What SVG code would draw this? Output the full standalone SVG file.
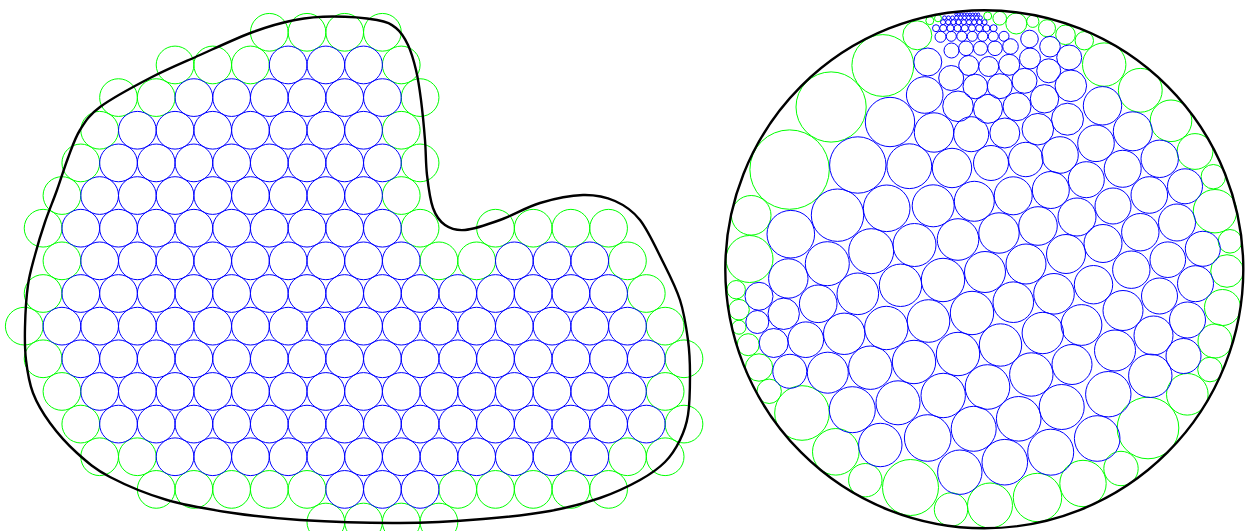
<svg xmlns="http://www.w3.org/2000/svg" width="1245" height="531" viewBox="0 0 1245 531">
<style>
.g circle{fill:none;stroke:#00ff00;stroke-width:1}
.b circle{fill:none;stroke:#0000ff;stroke-width:1}
.k{fill:none;stroke:#000;stroke-width:2.4}
</style>
<rect width="1245" height="531" fill="#fff"/>
<g id="left-packing">
<g id="left-green" class="g">
<circle cx="269.3" cy="32.3" r="18.85"/><circle cx="307" cy="32.3" r="18.85"/><circle cx="344.7" cy="32.3" r="18.85"/><circle cx="382.4" cy="32.3" r="18.85"/>
<circle cx="175.05" cy="64.95" r="18.85"/><circle cx="212.75" cy="64.95" r="18.85"/><circle cx="250.45" cy="64.95" r="18.85"/><circle cx="401.25" cy="64.95" r="18.85"/>
<circle cx="118.5" cy="97.6" r="18.85"/><circle cx="156.2" cy="97.6" r="18.85"/><circle cx="420.1" cy="97.6" r="18.85"/>
<circle cx="99.65" cy="130.25" r="18.85"/><circle cx="401.25" cy="130.25" r="18.85"/>
<circle cx="80.8" cy="162.9" r="18.85"/><circle cx="420.1" cy="162.9" r="18.85"/>
<circle cx="61.95" cy="195.55" r="18.85"/><circle cx="401.25" cy="195.55" r="18.85"/>
<circle cx="43.1" cy="228.2" r="18.85"/><circle cx="420.1" cy="228.2" r="18.85"/><circle cx="495.5" cy="228.2" r="18.85"/><circle cx="533.2" cy="228.2" r="18.85"/><circle cx="570.9" cy="228.2" r="18.85"/><circle cx="608.6" cy="228.2" r="18.85"/>
<circle cx="61.95" cy="260.85" r="18.85"/><circle cx="438.95" cy="260.85" r="18.85"/><circle cx="476.65" cy="260.85" r="18.85"/><circle cx="627.45" cy="260.85" r="18.85"/>
<circle cx="43.1" cy="293.5" r="18.85"/><circle cx="646.3" cy="293.5" r="18.85"/>
<circle cx="24.25" cy="326.15" r="18.85"/><circle cx="665.15" cy="326.15" r="18.85"/>
<circle cx="43.1" cy="358.8" r="18.85"/><circle cx="684" cy="358.8" r="18.85"/>
<circle cx="61.95" cy="391.45" r="18.85"/><circle cx="665.15" cy="391.45" r="18.85"/>
<circle cx="80.8" cy="424.1" r="18.85"/><circle cx="684" cy="424.1" r="18.85"/>
<circle cx="99.65" cy="456.75" r="18.85"/><circle cx="137.35" cy="456.75" r="18.85"/><circle cx="627.45" cy="456.75" r="18.85"/><circle cx="665.15" cy="456.75" r="18.85"/>
<circle cx="156.2" cy="489.4" r="18.85"/><circle cx="193.9" cy="489.4" r="18.85"/><circle cx="231.6" cy="489.4" r="18.85"/><circle cx="269.3" cy="489.4" r="18.85"/><circle cx="307" cy="489.4" r="18.85"/><circle cx="457.8" cy="489.4" r="18.85"/><circle cx="495.5" cy="489.4" r="18.85"/><circle cx="533.2" cy="489.4" r="18.85"/><circle cx="570.9" cy="489.4" r="18.85"/><circle cx="608.6" cy="489.4" r="18.85"/>
<circle cx="325.85" cy="522.05" r="18.85"/><circle cx="363.55" cy="522.05" r="18.85"/><circle cx="401.25" cy="522.05" r="18.85"/><circle cx="438.95" cy="522.05" r="18.85"/>
</g>
<g id="left-blue" class="b">
<circle cx="288.15" cy="64.95" r="18.85"/><circle cx="325.85" cy="64.95" r="18.85"/><circle cx="363.55" cy="64.95" r="18.85"/>
<circle cx="193.9" cy="97.6" r="18.85"/><circle cx="231.6" cy="97.6" r="18.85"/><circle cx="269.3" cy="97.6" r="18.85"/><circle cx="307" cy="97.6" r="18.85"/><circle cx="344.7" cy="97.6" r="18.85"/><circle cx="382.4" cy="97.6" r="18.85"/>
<circle cx="137.35" cy="130.25" r="18.85"/><circle cx="175.05" cy="130.25" r="18.85"/><circle cx="212.75" cy="130.25" r="18.85"/><circle cx="250.45" cy="130.25" r="18.85"/><circle cx="288.15" cy="130.25" r="18.85"/><circle cx="325.85" cy="130.25" r="18.85"/><circle cx="363.55" cy="130.25" r="18.85"/>
<circle cx="118.5" cy="162.9" r="18.85"/><circle cx="156.2" cy="162.9" r="18.85"/><circle cx="193.9" cy="162.9" r="18.85"/><circle cx="231.6" cy="162.9" r="18.85"/><circle cx="269.3" cy="162.9" r="18.85"/><circle cx="307" cy="162.9" r="18.85"/><circle cx="344.7" cy="162.9" r="18.85"/><circle cx="382.4" cy="162.9" r="18.85"/>
<circle cx="99.65" cy="195.55" r="18.85"/><circle cx="137.35" cy="195.55" r="18.85"/><circle cx="175.05" cy="195.55" r="18.85"/><circle cx="212.75" cy="195.55" r="18.85"/><circle cx="250.45" cy="195.55" r="18.85"/><circle cx="288.15" cy="195.55" r="18.85"/><circle cx="325.85" cy="195.55" r="18.85"/><circle cx="363.55" cy="195.55" r="18.85"/>
<circle cx="80.8" cy="228.2" r="18.85"/><circle cx="118.5" cy="228.2" r="18.85"/><circle cx="156.2" cy="228.2" r="18.85"/><circle cx="193.9" cy="228.2" r="18.85"/><circle cx="231.6" cy="228.2" r="18.85"/><circle cx="269.3" cy="228.2" r="18.85"/><circle cx="307" cy="228.2" r="18.85"/><circle cx="344.7" cy="228.2" r="18.85"/><circle cx="382.4" cy="228.2" r="18.85"/>
<circle cx="99.65" cy="260.85" r="18.85"/><circle cx="137.35" cy="260.85" r="18.85"/><circle cx="175.05" cy="260.85" r="18.85"/><circle cx="212.75" cy="260.85" r="18.85"/><circle cx="250.45" cy="260.85" r="18.85"/><circle cx="288.15" cy="260.85" r="18.85"/><circle cx="325.85" cy="260.85" r="18.85"/><circle cx="363.55" cy="260.85" r="18.85"/><circle cx="401.25" cy="260.85" r="18.85"/><circle cx="514.35" cy="260.85" r="18.85"/><circle cx="552.05" cy="260.85" r="18.85"/><circle cx="589.75" cy="260.85" r="18.85"/>
<circle cx="80.8" cy="293.5" r="18.85"/><circle cx="118.5" cy="293.5" r="18.85"/><circle cx="156.2" cy="293.5" r="18.85"/><circle cx="193.9" cy="293.5" r="18.85"/><circle cx="231.6" cy="293.5" r="18.85"/><circle cx="269.3" cy="293.5" r="18.85"/><circle cx="307" cy="293.5" r="18.85"/><circle cx="344.7" cy="293.5" r="18.85"/><circle cx="382.4" cy="293.5" r="18.85"/><circle cx="420.1" cy="293.5" r="18.85"/><circle cx="457.8" cy="293.5" r="18.85"/><circle cx="495.5" cy="293.5" r="18.85"/><circle cx="533.2" cy="293.5" r="18.85"/><circle cx="570.9" cy="293.5" r="18.85"/><circle cx="608.6" cy="293.5" r="18.85"/>
<circle cx="61.95" cy="326.15" r="18.85"/><circle cx="99.65" cy="326.15" r="18.85"/><circle cx="137.35" cy="326.15" r="18.85"/><circle cx="175.05" cy="326.15" r="18.85"/><circle cx="212.75" cy="326.15" r="18.85"/><circle cx="250.45" cy="326.15" r="18.85"/><circle cx="288.15" cy="326.15" r="18.85"/><circle cx="325.85" cy="326.15" r="18.85"/><circle cx="363.55" cy="326.15" r="18.85"/><circle cx="401.25" cy="326.15" r="18.85"/><circle cx="438.95" cy="326.15" r="18.85"/><circle cx="476.65" cy="326.15" r="18.85"/><circle cx="514.35" cy="326.15" r="18.85"/><circle cx="552.05" cy="326.15" r="18.85"/><circle cx="589.75" cy="326.15" r="18.85"/><circle cx="627.45" cy="326.15" r="18.85"/>
<circle cx="80.8" cy="358.8" r="18.85"/><circle cx="118.5" cy="358.8" r="18.85"/><circle cx="156.2" cy="358.8" r="18.85"/><circle cx="193.9" cy="358.8" r="18.85"/><circle cx="231.6" cy="358.8" r="18.85"/><circle cx="269.3" cy="358.8" r="18.85"/><circle cx="307" cy="358.8" r="18.85"/><circle cx="344.7" cy="358.8" r="18.85"/><circle cx="382.4" cy="358.8" r="18.85"/><circle cx="420.1" cy="358.8" r="18.85"/><circle cx="457.8" cy="358.8" r="18.85"/><circle cx="495.5" cy="358.8" r="18.85"/><circle cx="533.2" cy="358.8" r="18.85"/><circle cx="570.9" cy="358.8" r="18.85"/><circle cx="608.6" cy="358.8" r="18.85"/><circle cx="646.3" cy="358.8" r="18.85"/>
<circle cx="99.65" cy="391.45" r="18.85"/><circle cx="137.35" cy="391.45" r="18.85"/><circle cx="175.05" cy="391.45" r="18.85"/><circle cx="212.75" cy="391.45" r="18.85"/><circle cx="250.45" cy="391.45" r="18.85"/><circle cx="288.15" cy="391.45" r="18.85"/><circle cx="325.85" cy="391.45" r="18.85"/><circle cx="363.55" cy="391.45" r="18.85"/><circle cx="401.25" cy="391.45" r="18.85"/><circle cx="438.95" cy="391.45" r="18.85"/><circle cx="476.65" cy="391.45" r="18.85"/><circle cx="514.35" cy="391.45" r="18.85"/><circle cx="552.05" cy="391.45" r="18.85"/><circle cx="589.75" cy="391.45" r="18.85"/><circle cx="627.45" cy="391.45" r="18.85"/>
<circle cx="118.5" cy="424.1" r="18.85"/><circle cx="156.2" cy="424.1" r="18.85"/><circle cx="193.9" cy="424.1" r="18.85"/><circle cx="231.6" cy="424.1" r="18.85"/><circle cx="269.3" cy="424.1" r="18.85"/><circle cx="307" cy="424.1" r="18.85"/><circle cx="344.7" cy="424.1" r="18.85"/><circle cx="382.4" cy="424.1" r="18.85"/><circle cx="420.1" cy="424.1" r="18.85"/><circle cx="457.8" cy="424.1" r="18.85"/><circle cx="495.5" cy="424.1" r="18.85"/><circle cx="533.2" cy="424.1" r="18.85"/><circle cx="570.9" cy="424.1" r="18.85"/><circle cx="608.6" cy="424.1" r="18.85"/><circle cx="646.3" cy="424.1" r="18.85"/>
<circle cx="175.05" cy="456.75" r="18.85"/><circle cx="212.75" cy="456.75" r="18.85"/><circle cx="250.45" cy="456.75" r="18.85"/><circle cx="288.15" cy="456.75" r="18.85"/><circle cx="325.85" cy="456.75" r="18.85"/><circle cx="363.55" cy="456.75" r="18.85"/><circle cx="401.25" cy="456.75" r="18.85"/><circle cx="438.95" cy="456.75" r="18.85"/><circle cx="476.65" cy="456.75" r="18.85"/><circle cx="514.35" cy="456.75" r="18.85"/><circle cx="552.05" cy="456.75" r="18.85"/><circle cx="589.75" cy="456.75" r="18.85"/>
<circle cx="344.7" cy="489.4" r="18.85"/><circle cx="382.4" cy="489.4" r="18.85"/><circle cx="420.1" cy="489.4" r="18.85"/>
</g>
<path id="left-boundary" class="k" d="M333,16.5 C346.7,16.5 366.5,18.1 377,20 C387.5,21.9 390.8,23.8 396,28 C401.2,32.2 404.7,38 408,45 C411.3,52 413.8,60.8 416,70 C418.2,79.2 419.5,88.3 421,100 C422.5,111.7 424,127.5 425,140 C426,152.5 425.7,163.7 427,175 C428.3,186.3 430,199.7 433,208 C436,216.3 439.7,221.3 445,225 C450.3,228.7 455.8,230.8 465,230 C474.2,229.2 487.5,224.5 500,220 C512.5,215.5 526.2,207.2 540,203 C553.8,198.8 570.5,195.3 583,195 C595.5,194.7 605.5,196.8 615,201 C624.5,205.2 632,209.8 640,220 C648,230.2 656.3,248.7 663,262 C669.7,275.3 675.8,287 680,300 C684.2,313 686.3,327.5 688,340 C689.7,352.5 690,362.5 690,375 C690,387.5 689.7,404.2 688,415 C686.3,425.8 683.8,432.2 680,440 C676.2,447.8 671.7,455.3 665,462 C658.3,468.7 650.8,474 640,480 C629.2,486 615,492.8 600,498 C585,503.2 569.5,507.5 550,511 C530.5,514.5 508,517 483,519 C458,521 430.5,522.8 400,523 C369.5,523.2 327.8,521.7 300,520 C272.2,518.3 255.2,516.3 233,513 C210.8,509.7 187.5,506 167,500 C146.5,494 125,484.8 110,477 C95,469.2 87,462 77,453 C67,444 57.3,433 50,423 C42.7,413 37,403.5 33,393 C29,382.5 27.3,371 26,360 C24.7,349 24.7,339.5 25,327 C25.3,314.5 26.3,297 28,285 C29.7,273 32.2,265.5 35,255 C37.8,244.5 41.3,232.8 45,222 C48.7,211.2 53.2,200.7 57,190 C60.8,179.3 64.2,168 68,158 C71.8,148 74.7,138.5 80,130 C85.3,121.5 88.3,115.7 100,107 C111.7,98.3 133.3,86.7 150,78 C166.7,69.3 182.8,62.7 200,55 C217.2,47.3 237.2,37.8 253,32 C268.8,26.2 281.7,22.6 295,20 C308.3,17.4 319.3,16.5 333,16.5 Z"/>
</g>
<g id="right-packing">
<g id="right-green" class="g">
<circle cx="789.6" cy="169.6" r="39.7"/><circle cx="831.1" cy="107" r="35.1"/><circle cx="882.8" cy="65.5" r="30.9"/><circle cx="917.3" cy="35.3" r="14.5"/><circle cx="929.8" cy="20.7" r="4"/><circle cx="938" cy="18.3" r="3.5"/><circle cx="987.7" cy="16" r="4"/><circle cx="999.7" cy="18.3" r="6.8"/><circle cx="1016.3" cy="23.5" r="10.5"/><circle cx="1032.8" cy="21.3" r="6.1"/><circle cx="1047" cy="28.2" r="8.5"/><circle cx="1065.5" cy="34.8" r="9.8"/><circle cx="1084.3" cy="40.7" r="9.2"/><circle cx="1104.2" cy="64.6" r="21.7"/><circle cx="1140.3" cy="90.3" r="21.9"/><circle cx="1171" cy="120.8" r="20.8"/><circle cx="1195" cy="151.5" r="17.9"/><circle cx="1213.3" cy="176.7" r="12.2"/><circle cx="1215" cy="211.2" r="21.7"/><circle cx="1230" cy="241.3" r="11.8"/><circle cx="1227" cy="271" r="16.3"/><circle cx="1222.5" cy="307.5" r="18"/><circle cx="1215" cy="341" r="17"/><circle cx="1210" cy="369.5" r="12.3"/><circle cx="1187.3" cy="394.3" r="20.8"/><circle cx="1148" cy="428" r="30.8"/><circle cx="1121" cy="468.5" r="17.2"/><circle cx="1083" cy="483.5" r="23.2"/><circle cx="1037.5" cy="497.5" r="24.2"/><circle cx="990" cy="505.5" r="22.5"/><circle cx="951" cy="509.5" r="16.7"/><circle cx="910.5" cy="487.5" r="28"/><circle cx="865.3" cy="480.2" r="16.7"/><circle cx="835.8" cy="451.8" r="23.3"/><circle cx="802" cy="413" r="27.3"/><circle cx="769.2" cy="391.3" r="12.2"/><circle cx="759" cy="367.5" r="13.7"/><circle cx="748.2" cy="344.7" r="11"/><circle cx="739" cy="327.2" r="7"/><circle cx="739" cy="309.7" r="10.3"/><circle cx="736.2" cy="289.7" r="9.2"/><circle cx="749.5" cy="259" r="23.5"/><circle cx="751.2" cy="215.3" r="19.8"/>
</g>
<g id="right-blue" class="b">
<circle cx="956" cy="14.3" r="1.3"/><circle cx="958.8" cy="14.3" r="1.3"/><circle cx="961.6" cy="14.3" r="1.3"/><circle cx="964.4" cy="14.3" r="1.3"/><circle cx="967.2" cy="14.3" r="1.3"/><circle cx="970" cy="14.3" r="1.3"/><circle cx="972.8" cy="14.3" r="1.3"/><circle cx="975.6" cy="14.3" r="1.3"/><circle cx="978.4" cy="14.3" r="1.3"/>
<circle cx="944.5" cy="17.8" r="1.9"/><circle cx="948.5" cy="17.8" r="1.9"/><circle cx="952.5" cy="17.8" r="1.9"/><circle cx="956.5" cy="17.8" r="1.9"/><circle cx="960.5" cy="17.8" r="1.9"/><circle cx="964.5" cy="17.8" r="1.9"/><circle cx="968.5" cy="17.8" r="1.9"/><circle cx="972.5" cy="17.8" r="1.9"/><circle cx="976.5" cy="17.8" r="1.9"/><circle cx="980.5" cy="17.8" r="1.9"/>
<circle cx="943" cy="22.2" r="2.5"/><circle cx="948.2" cy="22.2" r="2.5"/><circle cx="953.4" cy="22.2" r="2.5"/><circle cx="958.6" cy="22.2" r="2.5"/><circle cx="963.8" cy="22.2" r="2.5"/><circle cx="969" cy="22.2" r="2.5"/><circle cx="974.2" cy="22.2" r="2.5"/><circle cx="979.4" cy="22.2" r="2.5"/><circle cx="984.6" cy="22.2" r="2.5"/>
<circle cx="936" cy="28.2" r="3.5"/><circle cx="943.2" cy="28.2" r="3.5"/><circle cx="950.4" cy="28.2" r="3.5"/><circle cx="957.6" cy="28.2" r="3.5"/><circle cx="964.8" cy="28.2" r="3.5"/><circle cx="972" cy="28.2" r="3.5"/><circle cx="979.2" cy="28.2" r="3.5"/><circle cx="986.4" cy="28.2" r="3.5"/><circle cx="993.6" cy="28.2" r="3.5"/>
<circle cx="940.5" cy="36.8" r="5.5"/><circle cx="951.3" cy="36.3" r="5"/><circle cx="961.8" cy="36.3" r="5"/><circle cx="972.3" cy="36.3" r="5"/><circle cx="982.8" cy="36.3" r="5"/><circle cx="993.3" cy="36.3" r="5"/><circle cx="1004" cy="36.3" r="5"/>
<circle cx="951.5" cy="50.5" r="7.5"/><circle cx="966" cy="48.3" r="7.3"/><circle cx="980.5" cy="48.3" r="7"/><circle cx="995" cy="48.3" r="7.3"/><circle cx="1010.5" cy="46.5" r="7.8"/><circle cx="1029.5" cy="39" r="8.8"/><circle cx="1050" cy="46.7" r="10.3"/>
<circle cx="927.8" cy="62" r="14"/><circle cx="968.7" cy="65.5" r="10"/><circle cx="988.7" cy="66.5" r="10"/><circle cx="1009.2" cy="64.8" r="10.5"/><circle cx="1030" cy="58.5" r="10.5"/><circle cx="1048.7" cy="70.8" r="12"/><circle cx="1069.2" cy="57.5" r="12.5"/>
<circle cx="951.2" cy="78" r="12.5"/><circle cx="975.3" cy="86.5" r="12.3"/><circle cx="999.8" cy="86.2" r="12.5"/><circle cx="1024.5" cy="80.8" r="12.5"/><circle cx="1044.5" cy="98.8" r="14.2"/><circle cx="1070.8" cy="85.8" r="15.8"/>
<circle cx="924.7" cy="95" r="18.3"/><circle cx="958" cy="106.3" r="15.3"/><circle cx="988" cy="108.8" r="14.5"/><circle cx="1017" cy="106.7" r="14"/><circle cx="1067.5" cy="119.2" r="16"/><circle cx="1102.5" cy="105.8" r="19.2"/>
<circle cx="890" cy="122" r="24.7"/><circle cx="934" cy="132.5" r="19.7"/><circle cx="971.2" cy="134.2" r="17.5"/><circle cx="1004.8" cy="133" r="15"/><circle cx="1037.8" cy="129.2" r="15.8"/><circle cx="1096" cy="143.3" r="18.3"/><circle cx="1132.8" cy="131.3" r="19.5"/>
<circle cx="857.8" cy="165" r="28.2"/><circle cx="909.3" cy="166.2" r="22.4"/><circle cx="952" cy="168" r="19.7"/><circle cx="991" cy="163" r="17.5"/><circle cx="1025.8" cy="159.5" r="17.2"/><circle cx="1060" cy="155" r="18.3"/><circle cx="1122.7" cy="168.8" r="18.5"/><circle cx="1159.7" cy="158.8" r="18.7"/>
<circle cx="886.7" cy="208.3" r="23.3"/><circle cx="933.2" cy="205.8" r="21"/><circle cx="974.3" cy="201.3" r="20"/><circle cx="1013.2" cy="195.8" r="19"/><circle cx="1050.8" cy="190" r="18.5"/><circle cx="1086.3" cy="179.7" r="18"/><circle cx="1077" cy="217" r="19"/><circle cx="1113" cy="206" r="18"/><circle cx="1149.3" cy="195" r="18.3"/><circle cx="1185" cy="186.3" r="17.5"/>
<circle cx="790.8" cy="234.2" r="23.8"/><circle cx="837.5" cy="215.2" r="26.2"/><circle cx="871.2" cy="251.2" r="22.5"/><circle cx="914.5" cy="245" r="21.5"/><circle cx="958" cy="239.5" r="20.8"/><circle cx="999" cy="233" r="20.2"/><circle cx="1038" cy="226" r="19.3"/><circle cx="1103" cy="243.5" r="19"/><circle cx="1140.3" cy="232.2" r="18.7"/><circle cx="1177" cy="222.5" r="18.5"/><circle cx="1202.8" cy="248.8" r="17.5"/>
<circle cx="788.3" cy="278.5" r="19.7"/><circle cx="827.3" cy="263.7" r="22"/><circle cx="857.8" cy="293.8" r="20.8"/><circle cx="900.5" cy="285.3" r="21.2"/><circle cx="943" cy="280" r="21.7"/><circle cx="985" cy="272" r="20.5"/><circle cx="1026" cy="264" r="20"/><circle cx="1066" cy="254" r="19.5"/><circle cx="1093.5" cy="284.7" r="19.2"/><circle cx="1131.3" cy="269.7" r="18.7"/><circle cx="1167.8" cy="259.7" r="17.8"/><circle cx="1195.5" cy="283.7" r="18"/><circle cx="1159.5" cy="296" r="18"/>
<circle cx="759" cy="296.3" r="14"/><circle cx="757.3" cy="322" r="11.5"/><circle cx="783.7" cy="313.8" r="15.7"/><circle cx="818.2" cy="303.8" r="18.8"/><circle cx="773.7" cy="343" r="14.5"/><circle cx="805.8" cy="339.7" r="17.8"/><circle cx="844.2" cy="333.8" r="20.7"/><circle cx="886.3" cy="328" r="21.7"/><circle cx="928.5" cy="321" r="21.3"/><circle cx="972" cy="313" r="21.7"/><circle cx="1013.3" cy="302.2" r="20.3"/><circle cx="1054" cy="293.8" r="20.3"/><circle cx="1081.5" cy="325" r="20.4"/><circle cx="1123" cy="310.5" r="20"/><circle cx="1187.5" cy="320" r="18"/><circle cx="1153.5" cy="335.5" r="19.5"/>
<circle cx="789.8" cy="371.3" r="17"/><circle cx="827.8" cy="372.7" r="20.5"/><circle cx="870.3" cy="367.7" r="21.7"/><circle cx="914" cy="362" r="21.7"/><circle cx="958" cy="354" r="21.7"/><circle cx="1000.5" cy="345" r="21.2"/><circle cx="1042.8" cy="333" r="20.7"/><circle cx="1072" cy="364.5" r="20"/><circle cx="1115" cy="350.5" r="20.5"/><circle cx="1150.3" cy="375.8" r="21.7"/><circle cx="1183.5" cy="356" r="17.5"/>
<circle cx="852.3" cy="409.7" r="23"/><circle cx="898" cy="402.8" r="22"/><circle cx="943.2" cy="395.5" r="22.2"/><circle cx="987.5" cy="387" r="22.3"/><circle cx="1031.3" cy="374.5" r="21.7"/><circle cx="1061.7" cy="407" r="22.5"/><circle cx="1108.3" cy="394.2" r="22.7"/>
<circle cx="880.3" cy="445" r="21.7"/><circle cx="927.7" cy="438" r="23.3"/><circle cx="973.7" cy="428.8" r="22.5"/><circle cx="1018.7" cy="418.8" r="22.3"/><circle cx="1097.2" cy="438.5" r="22.8"/>
<circle cx="959.8" cy="472.2" r="22.2"/><circle cx="1004.8" cy="462.2" r="22.8"/><circle cx="1050.7" cy="452.2" r="23"/>
</g>
<circle id="right-boundary" class="k" cx="984.3" cy="269.3" r="259"/>
</g>
</svg>
